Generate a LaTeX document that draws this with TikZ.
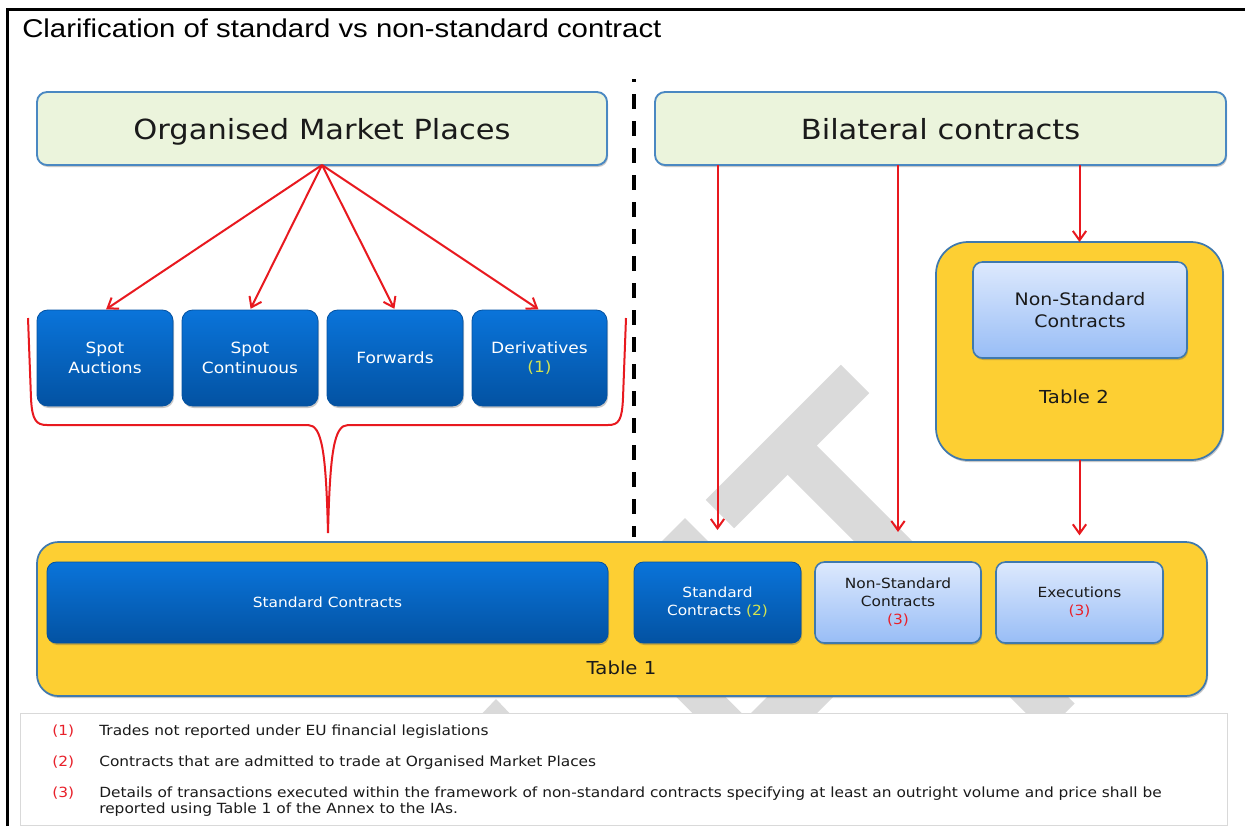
\documentclass[tikz,border=0pt]{standalone}
\usepackage{fontspec}
\setmainfont{DejaVu Sans}[FakeStretch=1.1]
\newfontfamily\titlefont{Liberation Sans}[FakeStretch=1.14]
\usetikzlibrary{arrows.meta,shadows}
\definecolor{boxgreen}{HTML}{EBF4DC}
\definecolor{boxedge}{HTML}{4A88C2}
\definecolor{dblueT}{HTML}{0A74DA}
\definecolor{dblueB}{HTML}{0352A2}
\definecolor{lblueT}{HTML}{DDE9FD}
\definecolor{lblueB}{HTML}{98BDF6}
\definecolor{tyellow}{HTML}{FDCF33}
\definecolor{tedge}{HTML}{3F79AE}
\definecolor{arrred}{HTML}{E8191F}
\definecolor{notered}{HTML}{E8202A}
\definecolor{noteyel}{HTML}{D4E450}
\definecolor{wmgrey}{HTML}{DADADA}
\definecolor{txt}{HTML}{1A1A1A}
\tikzset{
  rect/.style args={#1,#2,#3,#4}{minimum width={(#3-#1)*0.75pt}, minimum height={(#4-#2)*0.75pt}, at={({(#1+#3)/2},{(#2+#4)/2})}, inner sep=0pt, outer sep=0pt},
  shad/.style={drop shadow={shadow xshift=0.8pt, shadow yshift=-1.5pt, opacity=0.3, fill=black!70}},
  grnbox/.style={draw=boxedge, line width=1.4pt, fill=boxgreen, rounded corners=7.5pt, shad, text=txt, text depth=0pt, font=\fontsize{20.8}{25}\selectfont},
  dbox/.style={draw=dblueB, line width=0.6pt, top color=dblueT, bottom color=dblueB, rounded corners=8pt, shad, text=white, align=center},
  lbox/.style={draw=tedge, line width=1.2pt, top color=lblueT, bottom color=lblueB, rounded corners=7pt, shad, text=txt, align=center},
  tbox/.style={draw=tedge, line width=1.3pt, fill=tyellow, shad},
  topfont/.style={font=\fontsize{11.6}{14.5}\selectfont},
  t1font/.style={font=\fontsize{10.5}{13.5}\selectfont},
  lblfont/.style={font=\fontsize{13.4}{16}\selectfont, text=txt, inner sep=0pt},
  arr/.style={draw=arrred, line width=1.5pt, -{Straight Barb[length=7pt,width=10pt]}},
  brace/.style={draw=arrred, line width=1.5pt},
  divider/.style={draw=black, line width=2.4pt, dash pattern=on 11.25pt off 9pt, dash phase=9pt},
  note/.style={anchor=base west, inner sep=0pt, text=txt, font=\fontsize{10.5}{12}\selectfont},
  wm/.style={draw=wmgrey, fill=wmgrey}
}
\begin{document}
\begin{tikzpicture}[x=0.75pt, y=-0.75pt]
\useasboundingbox (0,0) rectangle (1245,826);
\fill[white] (0,0) rectangle (1245,826);

% watermark
\begin{scope}
  \draw[wm, line width=30pt] (720,514) -- (855,379);
  \draw[wm, line width=31pt] (790,448) -- (1060,718);
  \fill[wmgrey] (658,545) -- (685,518) -- (712,545) -- cycle;
  \draw[wm, line width=26pt] (640,636) -- (760,756);
  \draw[wm, line width=35pt] (740,757) -- (860,637);
  \fill[wmgrey] (476,720) -- (496,699) -- (516,720) -- cycle;
\end{scope}

% frame and title
\draw[line width=2.25pt] (7,826) -- (7,9) -- (1245,9);
\node[anchor=base west, inner sep=0pt, font=\titlefont\fontsize{19.3}{23}\selectfont] (title) at (22,37) {Clarification of standard vs non-standard contract};

% top boxes
\node[grnbox, rect={37,92,607,165}] (omp) {Organised Market Places};
\node[grnbox, rect={655,92,1226,165}] (bil) {Bilateral contracts};

% market place boxes
\node[dbox, topfont, rect={37,310,173,406}] (sa) {Spot\\Auctions};
\node[dbox, topfont, rect={182,310,318,406}] (sc) {Spot\\Continuous};
\node[dbox, topfont, rect={327,310,463,406}] (fw) {Forwards};
\node[dbox, topfont, rect={472,310,607,406}] (dv) {Derivatives\\\textcolor{noteyel}{(1)}};

% brace
\draw[brace] (28,318) -- (31,398) .. controls (32,420) and (36,425) .. (47,425) -- (308,425)
  .. controls (322,425) and (326,452) .. (328,533)
  .. controls (330,452) and (334,425) .. (348,425) -- (608,425)
  .. controls (619,425) and (622,420) .. (623,398) -- (626,318);

% divider
\coordinate (dtop) at (634,79);
\coordinate (dbot) at (634,537);
\draw[divider] (dtop) -- (dbot);

% table 2
\node[tbox, rounded corners=24pt, rect={936,242,1223,460}] (t2) {};
\node[lbox, font=\fontsize{12.9}{16.5}\selectfont, rect={973,262,1187,358}] (nsc2) {Non-Standard\\Contracts};
\node[lblfont] (t2lab) at (1074,397) {Table 2};

% table 1
\node[tbox, rounded corners=16pt, rect={37,542,1207,696}] (t1) {};
\node[dbox, t1font, rounded corners=7pt, rect={47,562,608,643}] (stdbig) {Standard Contracts};
\node[dbox, t1font, rounded corners=7pt, rect={634,562,801,643}] (sc2) {Standard\\Contracts \textcolor{noteyel}{(2)}};
\node[lbox, t1font, rect={815,562,981,643}] (nsc1) {Non-Standard\\Contracts\\\textcolor{notered}{(3)}};
\node[lbox, t1font, rect={996,562,1163,643}] (ex) {Executions\\\textcolor{notered}{(3)}};
\node[lblfont] (t1lab) at (621.5,668) {Table 1};

% arrows
\draw[arr, shorten >=1pt] (omp.south) -- (sa.north);
\draw[arr, shorten >=1pt] (omp.south) -- (sc.north);
\draw[arr, shorten >=1pt] (omp.south) -- (fw.north);
\draw[arr, shorten >=1pt] (omp.south) -- (dv.north);
\draw[arr, shorten >=9pt] (bil.south -| sc2.north) -- (t1.north -| sc2.north);
\draw[arr, shorten >=7.5pt] (bil.south -| nsc1.north) -- (t1.north -| nsc1.north);
\draw[arr] (bil.south -| t2.north) -- (t2.north);
\draw[arr, shorten >=5pt] (t2.south) -- (t1.north -| t2.south);

% footnotes
\node[draw=black!15, fill=white, line width=0.75pt, rect={20,713,1227,825}] (notes) {};
\node[note, text=notered] (n1) at (52,735) {(1)};
\node[note] (f1) at (99,735) {Trades not reported under EU financial legislations};
\node[note, text=notered] (n2) at (52,766) {(2)};
\node[note] (f2) at (99,766) {Contracts that are admitted to trade at Organised Market Places};
\node[note, text=notered] (n3) at (52,797) {(3)};
\node[note] (f3a) at (99,797) {Details of transactions executed within the framework of non-standard contracts specifying at least an outright volume and price shall be};
\node[note] (f3b) at (99,813) {reported using Table 1 of the Annex to the IAs.};
\end{tikzpicture}
\end{document}
